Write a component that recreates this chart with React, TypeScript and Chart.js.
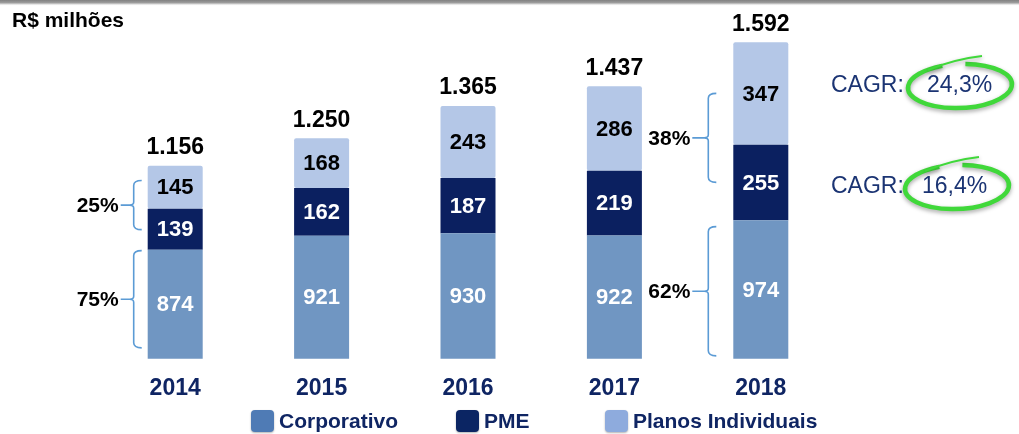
import React, { useEffect, useRef } from "react";
import { Chart, registerables } from "chart.js";

Chart.register(...registerables);

// ---- data ----
const years = ["2014", "2015", "2016", "2017", "2018"];
const corporativo = [874, 921, 930, 922, 974];
const pme = [139, 162, 187, 219, 255];
const planos = [145, 168, 243, 286, 347];
const totals = [1156, 1250, 1365, 1437, 1592];
const seriesNames = ["Corporativo", "PME", "Planos Individuais"];
const shareLabels = ["25%", "75%", "38%", "62%"];
const cagrLabels = ["24,3%", "16,4%"];
const unitLabel = "R$ milhões";

// ---- styles ----
const FONT = '"Liberation Sans", Arial, Helvetica, sans-serif';
const barColors = ["#7096C2", "#0B2060", "#B4C7E7"];
const legendColors = ["#4F7BB5", "#0B2563", "#8EABDD"];
const NAVY = "#0F2563";

// brace geometry (value span on y scale, bar index, offset left of the bar)
const braceSpecs = [
  { bar: 0, from: 1108, to: 942, offset: 14, tick: 13 },
  { bar: 0, from: 871, to: 542, offset: 14, tick: 13 },
  { bar: 4, from: 1403, to: 1102, offset: 25, tick: 16 },
  { bar: 4, from: 952, to: 515, offset: 25, tick: 16 },
];

const fmt = (n: number) => String(n).replace(/\B(?=(\d{3})+(?!\d))/g, ".");

const decorPlugin = {
  id: "decor",
  beforeDraw(chart: any) {
    const ctx = chart.ctx;
    ctx.save();
    const g = ctx.createLinearGradient(0, 0, 0, 6);
    g.addColorStop(0, "#808080");
    g.addColorStop(0.5, "#a0a0a0");
    g.addColorStop(1, "rgba(255,255,255,0)");
    ctx.fillStyle = g;
    ctx.fillRect(0, 0, chart.width, 6);
    ctx.restore();
  },
  afterDatasetsDraw(chart: any) {
    const ctx = chart.ctx;
    const area = chart.chartArea;
    const yScale = chart.scales.y;
    ctx.save();
    ctx.textAlign = "center";
    ctx.textBaseline = "middle";

    // segment values
    chart.data.datasets.forEach((ds: any, di: number) => {
      const meta = chart.getDatasetMeta(di);
      meta.data.forEach((bar: any, i: number) => {
        const p = bar.getProps(["x", "y", "base"], true);
        const base = Math.min(p.base, area.bottom);
        ctx.fillStyle = di === 2 ? "#000000" : "#FFFFFF";
        ctx.font = `bold 22px ${FONT}`;
        ctx.fillText(String(ds.data[i]), p.x, (p.y + base) / 2 + 1);
      });
    });

    // totals
    const topMeta = chart.getDatasetMeta(2);
    topMeta.data.forEach((bar: any, i: number) => {
      const p = bar.getProps(["x", "y"], true);
      ctx.fillStyle = "#000000";
      ctx.font = `bold 23px ${FONT}`;
      ctx.fillText(fmt(totals[i]), p.x, p.y - 18);
    });

    // braces
    braceSpecs.forEach((b, k) => {
      const bar: any = chart.getDatasetMeta(0).data[b.bar];
      const p = bar.getProps(["x", "width"], true);
      const x = p.x - p.width / 2 - b.offset;
      const top = yScale.getPixelForValue(b.from);
      const bot = yScale.getPixelForValue(b.to);
      const mid = (top + bot) / 2;
      ctx.strokeStyle = "#5B9BD5";
      ctx.lineWidth = 1.6;
      ctx.beginPath();
      ctx.moveTo(x + 8, top);
      ctx.quadraticCurveTo(x, top, x, top + 5);
      ctx.lineTo(x, mid - 3);
      ctx.quadraticCurveTo(x, mid, x - 4, mid);
      ctx.lineTo(x - b.tick, mid);
      ctx.moveTo(x - 4, mid);
      ctx.quadraticCurveTo(x, mid, x, mid + 3);
      ctx.lineTo(x, bot - 5);
      ctx.quadraticCurveTo(x, bot, x + 8, bot);
      ctx.stroke();
      ctx.fillStyle = "#000000";
      ctx.font = `bold 21px ${FONT}`;
      ctx.textAlign = "right";
      ctx.fillText(shareLabels[k], x - b.tick - 2, mid + 1);
      ctx.textAlign = "center";
    });

    // unit label
    ctx.textAlign = "left";
    ctx.textBaseline = "alphabetic";
    ctx.fillStyle = "#000000";
    ctx.font = `bold 21px ${FONT}`;
    ctx.fillText(unitLabel, 12, 27);

    // CAGR ellipses + text
    const rows = [
      { cy: 86, cx: 960, vx: 927 },
      { cy: 187, cx: 957, vx: 922 },
    ];
    rows.forEach((r, i) => {
      ctx.save();
      ctx.shadowColor = "rgba(0,0,0,0.35)";
      ctx.shadowBlur = 4;
      ctx.shadowOffsetY = 2;
      ctx.strokeStyle = "#40D83A";
      ctx.lineWidth = 4.5;
      ctx.beginPath();
      ctx.ellipse(r.cx, r.cy, 52, 22, -0.04, -1.45, Math.PI * 2 - 1.9, false);
      ctx.stroke();
      ctx.lineWidth = 2;
      ctx.beginPath();
      ctx.moveTo(r.cx - 32, r.cy - 16);
      ctx.quadraticCurveTo(r.cx - 5, r.cy - 27, r.cx + 22, r.cy - 30);
      ctx.stroke();
      ctx.restore();
      ctx.fillStyle = "#1B3473";
      ctx.font = `23px ${FONT}`;
      ctx.textBaseline = "middle";
      ctx.textAlign = "left";
      ctx.fillText("CAGR:", 831, r.cy);
      ctx.fillText(cagrLabels[i], r.vx, r.cy);
    });

    // legend
    const legendX = [251, 456, 605];
    const ly = 421;
    chart.data.datasets.forEach((ds: any, di: number) => {
      const bx = legendX[di];
      ctx.save();
      ctx.shadowColor = "rgba(0,0,0,0.3)";
      ctx.shadowBlur = 2;
      ctx.shadowOffsetY = 1;
      ctx.fillStyle = legendColors[di];
      ctx.beginPath();
      (ctx as any).roundRect(bx, ly - 11, 23, 22, 4);
      ctx.fill();
      ctx.restore();
      ctx.fillStyle = NAVY;
      ctx.font = `bold 21px ${FONT}`;
      ctx.textAlign = "left";
      ctx.textBaseline = "middle";
      ctx.fillText(ds.label, bx + 28, ly + 1);
    });

    ctx.restore();
  },
};

export default function App() {
  const ref = useRef<HTMLCanvasElement | null>(null);
  useEffect(() => {
    if (!ref.current) return;
    const yMin = 505;
    const yMax = 1685;
    const chart = new Chart(ref.current, {
      type: "bar",
      data: {
        labels: years,
        datasets: [
          { label: seriesNames[0], data: corporativo, backgroundColor: barColors[0] },
          { label: seriesNames[1], data: pme, backgroundColor: barColors[1] },
          { label: seriesNames[2], data: planos, backgroundColor: barColors[2] },
        ].map((d) => ({
          ...d,
          borderRadius: 2,
          borderSkipped: false,
          categoryPercentage: 1,
          barPercentage: 0.3757,
        })),
      },
      options: {
        animation: false,
        responsive: false,
        maintainAspectRatio: false,
        layout: { padding: { left: 102, right: 185, top: 10, bottom: 15.6 } },
        plugins: {
          legend: { display: false },
          tooltip: { enabled: false },
        },
        scales: {
          x: {
            stacked: true,
            grid: { display: false, drawTicks: false },
            border: { display: false },
            ticks: {
              color: NAVY,
              font: { family: FONT, size: 23, weight: "bold" },
              padding: 16,
            },
          },
          y: {
            stacked: true,
            display: false,
            min: yMin,
            max: yMax,
          },
        },
      },
      plugins: [decorPlugin],
    } as any);
    return () => chart.destroy();
  }, []);
  return (
    <div style={{ position: "absolute", left: 0, top: 0, width: 1019, height: 434, background: "#fff" }}>
      <canvas ref={ref} width={1019} height={434} style={{ width: 1019, height: 434, display: "block" }} />
    </div>
  );
}
